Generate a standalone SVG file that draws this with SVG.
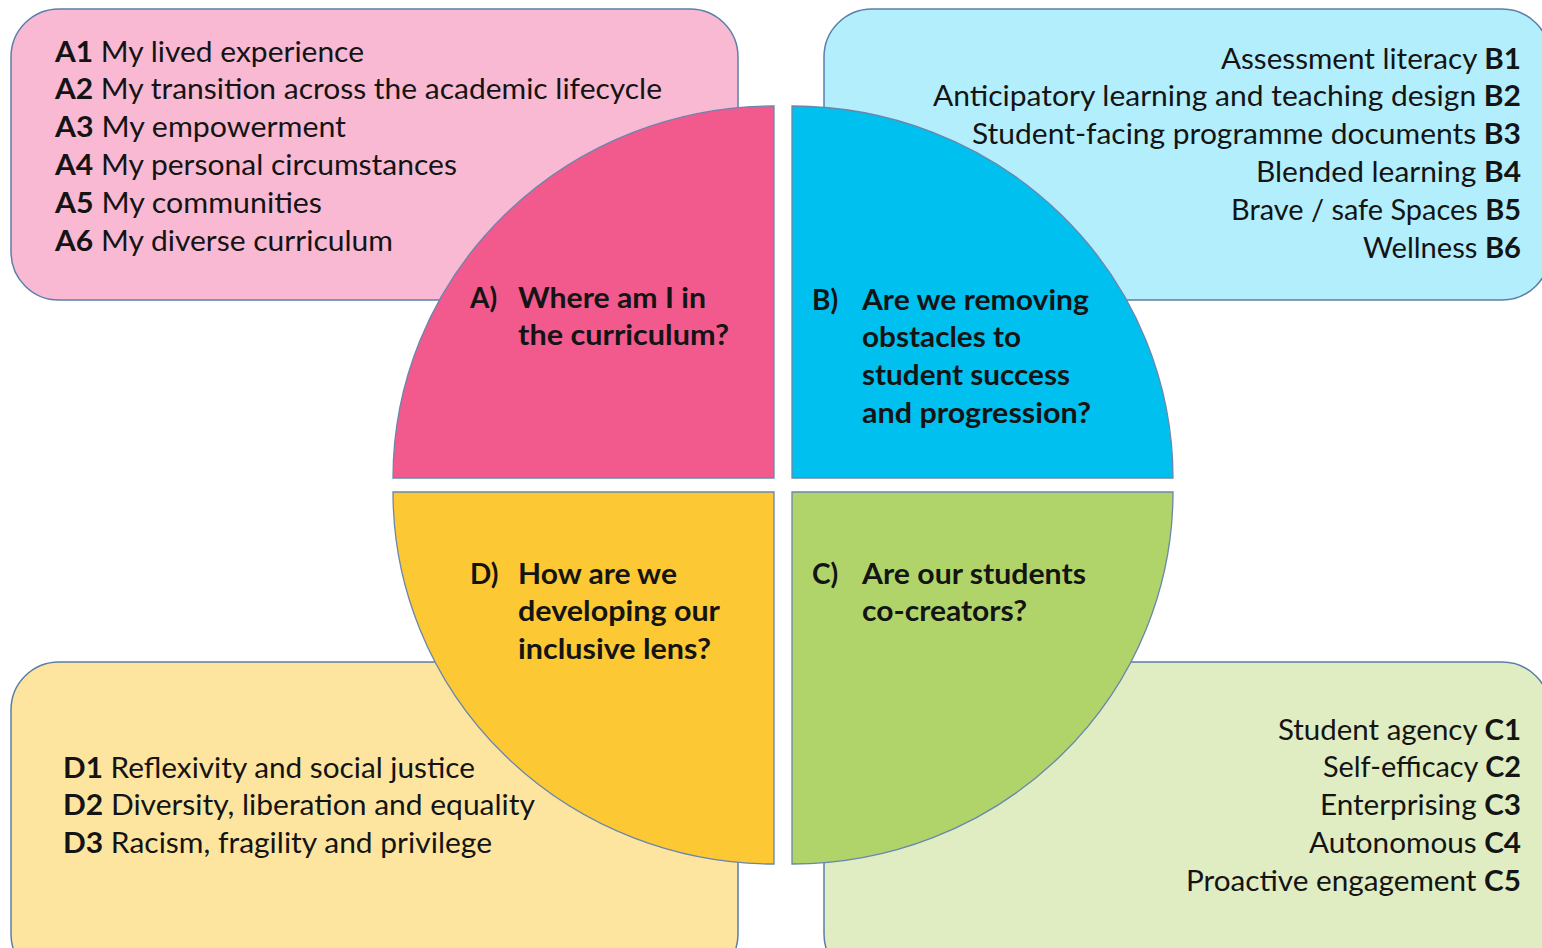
<svg xmlns="http://www.w3.org/2000/svg" width="1542" height="948" viewBox="0 0 1542 948">
<style>
.box{stroke:#5b7fa8;stroke-width:1.5}
.sec{stroke:#6a86ad;stroke-width:1.3}
text{font-family:Lato,"Open Sans","Liberation Sans",sans-serif;font-size:28px;fill:#141414}
.b{font-weight:bold}
.r{text-anchor:end}
</style>
<rect width="1542" height="948" fill="#ffffff"/>
<g id="boxA"><rect class="box" x="11" y="9" width="727" height="291" rx="48" fill="#f9b9d3"/></g>
<g id="boxB"><rect class="box" x="824" y="9" width="726" height="291" rx="48" fill="#b3eefc"/></g>
<g id="boxD"><rect class="box" x="11" y="662" width="727" height="320" rx="48" fill="#fde5a0"/></g>
<g id="boxC"><rect class="box" x="824" y="662" width="726" height="320" rx="48" fill="#e0edc3"/></g>

<g id="listA">
<text x="55" y="62" textLength="309" lengthAdjust="spacingAndGlyphs"><tspan class="b">A1</tspan> My lived experience</text>
<text x="55" y="99" textLength="607" lengthAdjust="spacingAndGlyphs"><tspan class="b">A2</tspan> My transition across the academic lifecycle</text>
<text x="55" y="137" textLength="291" lengthAdjust="spacingAndGlyphs"><tspan class="b">A3</tspan> My empowerment</text>
<text x="55" y="175" textLength="402" lengthAdjust="spacingAndGlyphs"><tspan class="b">A4</tspan> My personal circumstances</text>
<text x="55" y="213" textLength="267" lengthAdjust="spacingAndGlyphs"><tspan class="b">A5</tspan> My communities</text>
<text x="55" y="251" textLength="338" lengthAdjust="spacingAndGlyphs"><tspan class="b">A6</tspan> My diverse curriculum</text>
</g>
<g id="listB">
<text class="r" x="1521" y="69" textLength="300" lengthAdjust="spacingAndGlyphs">Assessment literacy <tspan class="b">B1</tspan></text>
<text class="r" x="1521" y="106" textLength="588" lengthAdjust="spacingAndGlyphs">Anticipatory learning and teaching design <tspan class="b">B2</tspan></text>
<text class="r" x="1521" y="144" textLength="549" lengthAdjust="spacingAndGlyphs">Student-facing programme documents <tspan class="b">B3</tspan></text>
<text class="r" x="1521" y="182" textLength="265" lengthAdjust="spacingAndGlyphs">Blended learning <tspan class="b">B4</tspan></text>
<text class="r" x="1521" y="220" textLength="290" lengthAdjust="spacingAndGlyphs">Brave / safe Spaces <tspan class="b">B5</tspan></text>
<text class="r" x="1521" y="258" textLength="158" lengthAdjust="spacingAndGlyphs">Wellness <tspan class="b">B6</tspan></text>
</g>
<g id="listC">
<text class="r" x="1521" y="740" textLength="243" lengthAdjust="spacingAndGlyphs">Student agency <tspan class="b">C1</tspan></text>
<text class="r" x="1521" y="777" textLength="198" lengthAdjust="spacingAndGlyphs">Self-efficacy <tspan class="b">C2</tspan></text>
<text class="r" x="1521" y="815" textLength="201" lengthAdjust="spacingAndGlyphs">Enterprising <tspan class="b">C3</tspan></text>
<text class="r" x="1521" y="853" textLength="212" lengthAdjust="spacingAndGlyphs">Autonomous <tspan class="b">C4</tspan></text>
<text class="r" x="1521" y="891" textLength="335" lengthAdjust="spacingAndGlyphs">Proactive engagement <tspan class="b">C5</tspan></text>
</g>
<g id="listD">
<text x="63" y="778" textLength="412" lengthAdjust="spacingAndGlyphs"><tspan class="b">D1</tspan> Reflexivity and social justice</text>
<text x="63" y="815" textLength="472" lengthAdjust="spacingAndGlyphs"><tspan class="b">D2</tspan> Diversity, liberation and equality</text>
<text x="63" y="853" textLength="429" lengthAdjust="spacingAndGlyphs"><tspan class="b">D3</tspan> Racism, fragility and privilege</text>
</g>

<g id="sectorA">
<path class="sec" d="M774,478 L393,478 A381,372 0 0 1 774,106 Z" fill="#f25a8e"/>
<text class="b" x="470" y="308">A)</text>
<text class="b" x="518" y="308" textLength="188" lengthAdjust="spacingAndGlyphs">Where am I in</text>
<text class="b" x="518" y="345" textLength="211" lengthAdjust="spacingAndGlyphs">the curriculum?</text>
</g>
<g id="sectorB">
<path class="sec" d="M792,478 L792,106 A381,372 0 0 1 1173,478 Z" fill="#00c0ef"/>
<text class="b" x="812" y="310">B)</text>
<text class="b" x="862" y="310" textLength="227" lengthAdjust="spacingAndGlyphs">Are we removing</text>
<text class="b" x="862" y="347" textLength="159" lengthAdjust="spacingAndGlyphs">obstacles to</text>
<text class="b" x="862" y="385" textLength="208" lengthAdjust="spacingAndGlyphs">student success</text>
<text class="b" x="862" y="423" textLength="229" lengthAdjust="spacingAndGlyphs">and progression?</text>
</g>
<g id="sectorC">
<path class="sec" d="M792,492 L1173,492 A381,372 0 0 1 792,864 Z" fill="#b0d46a"/>
<text class="b" x="812" y="584">C)</text>
<text class="b" x="862" y="584" textLength="224" lengthAdjust="spacingAndGlyphs">Are our students</text>
<text class="b" x="862" y="621" textLength="165" lengthAdjust="spacingAndGlyphs">co-creators?</text>
</g>
<g id="sectorD">
<path class="sec" d="M774,492 L774,864 A381,372 0 0 1 393,492 Z" fill="#fcc834"/>
<text class="b" x="470" y="584">D)</text>
<text class="b" x="518" y="584" textLength="159" lengthAdjust="spacingAndGlyphs">How are we</text>
<text class="b" x="518" y="621" textLength="202" lengthAdjust="spacingAndGlyphs">developing our</text>
<text class="b" x="518" y="659" textLength="193" lengthAdjust="spacingAndGlyphs">inclusive lens?</text>
</g>
<g id="connectors"></g>
</svg>
